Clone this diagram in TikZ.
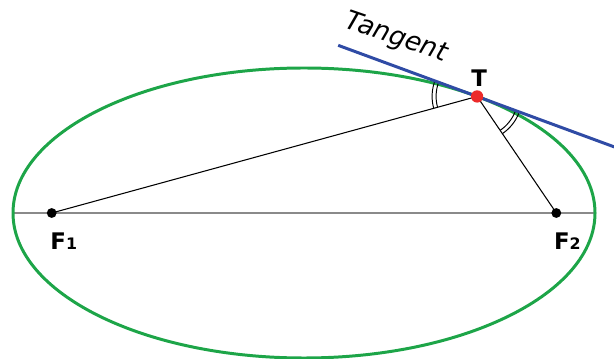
\documentclass[tikz,border=0pt]{standalone}
\usepackage{fontspec}
\setmainfont{DejaVu Sans}
\usepackage{xcolor}
\usetikzlibrary{calc,positioning,backgrounds}
\definecolor{ellgreen}{HTML}{1DA548}
\definecolor{tanblue}{HTML}{2F4BA5}
\definecolor{ptred}{HTML}{EC2A2A}
\definecolor{axisgray}{HTML}{8A8A8A}
\tikzset{
  focnode/.style={circle,fill=black,inner sep=0pt,minimum size=5.6pt},
  tgtnode/.style={circle,fill=ptred,inner sep=0pt,minimum size=7pt},
  ptlabel/.style={font=\fontsize{13}{13}\selectfont\bfseries,inner sep=0pt},
  ellline/.style={ellgreen,line width=1.7pt},
  tanline/.style={tanblue,line width=1.7pt},
  radline/.style={black,line width=0.6pt},
  axisline/.style={axisgray,line width=0.8pt},
  angmark/.style={black,line width=0.55pt},
}
\newcommand{\smallidx}[1]{{\fontsize{9}{9}\selectfont #1}}

\begin{document}
\begin{tikzpicture}[x=0.02cm,y=0.02cm]
    \useasboundingbox (0,0) rectangle (614,358);
    \coordinate (C) at (304,145);
    \node[focnode] (F1) at ($(C)+(-252.3,0)$) {};
    \node[focnode] (F2) at ($(C)+(252.3,0)$) {};
    \node[tgtnode] (T) at ($(C)+(53.5:291 and 145)$) {};
    \node[ptlabel] (F1lab) at ($(F1)+(12,-28)$) {F\smallidx{1}};
    \node[ptlabel] (F2lab) at ($(F2)+(11,-28)$) {F\smallidx{2}};
    \node[ptlabel] (Tlab) at ($(T)+(2,18)$) {T};
    \node[font=\fontsize{15}{15}\selectfont\itshape,rotate=-19,inner sep=0pt] (tanlab) at (396,320) {Tangent};
    \coordinate (TA) at ($(T.center)+(159.8:148)$);
    \coordinate (TB) at ($(T.center)+(-20.2:150)$);
    \coordinate (EL) at ($(C)+(-291,0)$);
    \coordinate (ER) at ($(C)+(291,0)$);
    \begin{scope}[on background layer]
      \draw[axisline] (EL) -- (ER);
      \draw[ellline] (C) ellipse [x radius=291,y radius=145];
      \draw[radline] (F1.center) -- (T.center) -- (F2.center);
      \foreach \r in {41,45} {
        \draw[angmark] (T.center) ++(159.8:\r) arc[start angle=159.8,end angle=195.3,radius=\r];
        \draw[angmark] (T.center) ++(-55.8:\r) arc[start angle=-55.8,end angle=-20.2,radius=\r];
      }
      \draw[tanline] (TA) -- (TB);
    \end{scope}
\end{tikzpicture}
\end{document}
